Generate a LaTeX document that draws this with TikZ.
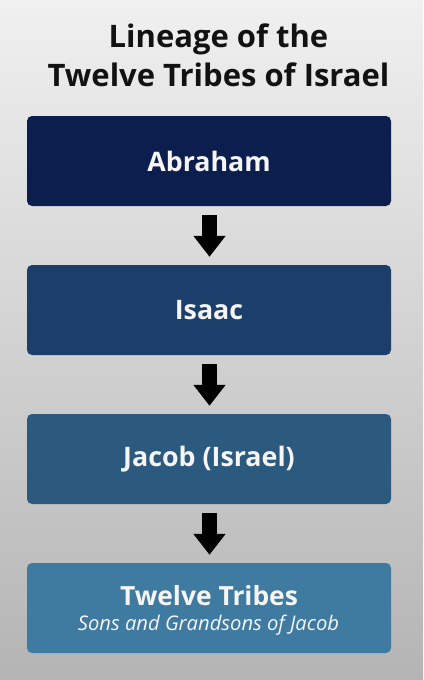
\documentclass[tikz,border=0pt]{standalone}
\usepackage{fontspec}
\setmainfont{Open Sans}
\usetikzlibrary{arrows.meta,calc}
\definecolor{boxA}{RGB}{12,30,77}
\definecolor{boxB}{RGB}{27,63,106}
\definecolor{boxC}{RGB}{44,90,126}
\definecolor{boxD}{RGB}{63,122,161}
\definecolor{bgtop}{RGB}{240,240,240}
\definecolor{bgbot}{RGB}{180,180,180}
\definecolor{txtw}{RGB}{245,245,245}
\tikzset{
  stagebox/.style={rounded corners=5pt, minimum width=364pt, minimum height=90pt, inner sep=0pt, text=txtw, font=\bfseries\fontsize{26.8}{30}\selectfont, align=center},
  titletext/.style={anchor=base, inner sep=0pt, font=\bfseries\fontsize{31}{36}\selectfont, text=black!93},
  downarrow/.style={line width=15pt, -{Triangle[length=21pt,width=31pt]}, black}
}
\begin{document}
\begin{tikzpicture}[x=1pt,y=-1pt]
\shade[top color=bgtop, bottom color=bgbot] (0,0) rectangle (423,680);
\useasboundingbox (0,0) rectangle (423,680);
\node[titletext] (title1) at (218.5,47) {Lineage of the};
\node[titletext] (title2) at (218.5,86) {Twelve Tribes of Israel};
\node[stagebox, fill=boxA] (abraham) at (209,161) {Abraham};
\node[stagebox, fill=boxB] (isaac) at (209,310) {Isaac};
\node[stagebox, fill=boxC] (jacob) at (209,459) {Jacob (Israel)};
\node[stagebox, fill=boxD] (tribes) at (209,608) {};
\node[anchor=base, inner sep=0pt, text=txtw, font=\bfseries\fontsize{26.4}{30}\selectfont] (tribesname) at (209,605) {Twelve Tribes};
\node[anchor=base, inner sep=0pt, text=txtw, font=\itshape\fontsize{20.2}{24}\selectfont] (tribessub) at (208.5,630) {Sons and Grandsons of Jacob};
\draw[downarrow] ($(abraham.south)+(0.5,9)$) -- ($(isaac.north)+(0.5,-8)$);
\draw[downarrow] ($(isaac.south)+(0.5,9)$) -- ($(jacob.north)+(0.5,-8)$);
\draw[downarrow] ($(jacob.south)+(0.5,9)$) -- ($(tribes.north)+(0.5,-8)$);
\end{tikzpicture}
\end{document}
